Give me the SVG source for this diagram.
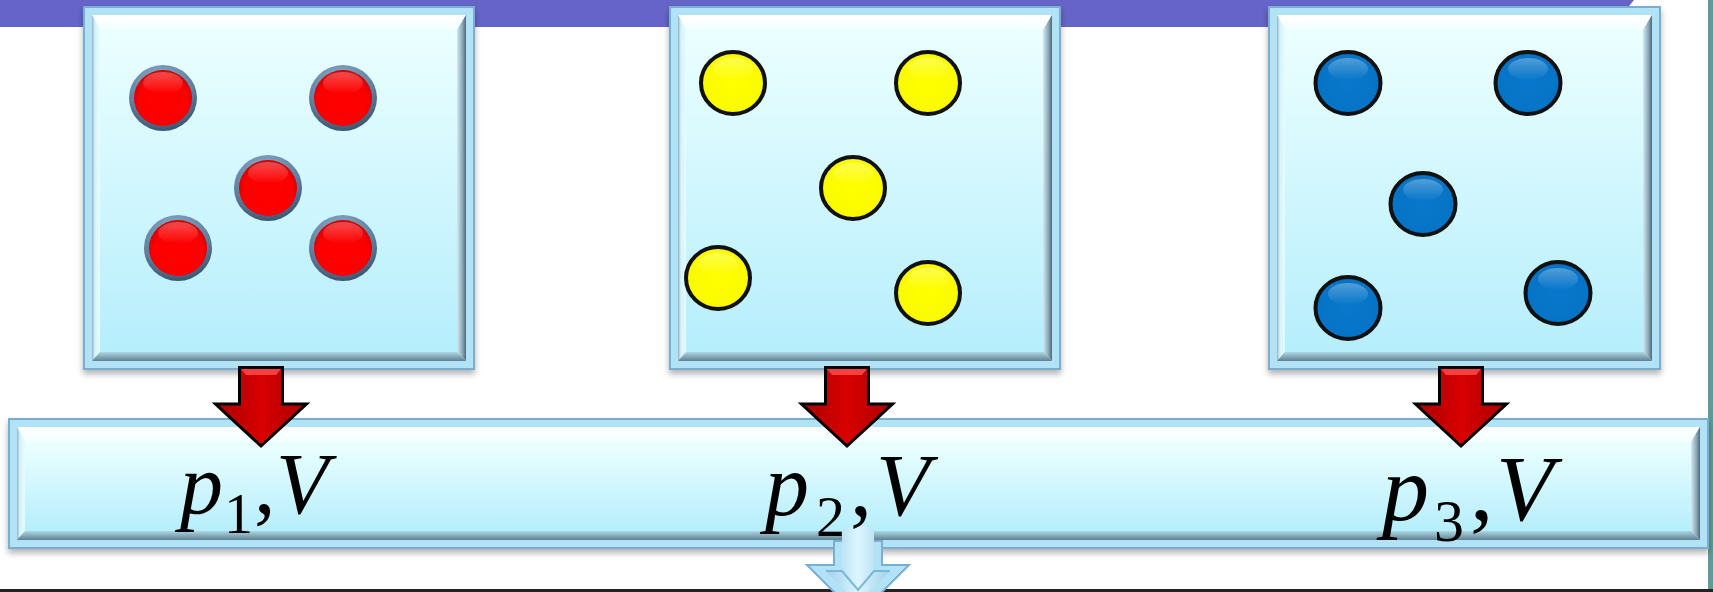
<svg xmlns="http://www.w3.org/2000/svg" width="1713" height="592" viewBox="0 0 1713 592">
<defs>
<style>
.frame{fill:#b2e2f6;stroke:#7aaed0;stroke-width:2}
.face{fill:url(#gFace)}
.bT{fill:url(#gTop)}
.bL{fill:url(#gLeft)}
.bR{fill:url(#gRight)}
.bB{fill:url(#gBottom)}
.ringR{fill:url(#gRing)}
.red{fill:url(#gRed)}
.yel{fill:url(#gYel);stroke:#111;stroke-width:4}
.blu{fill:url(#gBlu);stroke:#111;stroke-width:4}
.hi{fill:url(#gHi)}
.arr{fill:url(#gArr);stroke:#000;stroke-width:3;stroke-linejoin:miter}
.hl{fill:#ff4a4a;opacity:0.85}
.it{font-family:"Liberation Serif","Times New Roman",serif;font-style:italic;fill:#000}
.rm{font-family:"Liberation Serif","Times New Roman",serif;font-style:normal;fill:#000}
</style>
<filter id="sh" x="-5%" y="-5%" width="110%" height="115%">
<feDropShadow dx="0" dy="4" stdDeviation="3" flood-color="#000" flood-opacity="0.3"/>
</filter>
<linearGradient id="gFace" x1="0" y1="0" x2="0" y2="1">
<stop offset="0" stop-color="#ebffff"/><stop offset="1" stop-color="#b6eefc"/>
</linearGradient>
<linearGradient id="gTop" x1="0" y1="0" x2="0" y2="1">
<stop offset="0" stop-color="#ffffff"/><stop offset="1" stop-color="#f2ffff"/>
</linearGradient>
<linearGradient id="gLeft" x1="0" y1="0" x2="1" y2="0">
<stop offset="0" stop-color="#93b3c2"/><stop offset="0.35" stop-color="#d6f2fa"/><stop offset="1" stop-color="#e6fcff"/>
</linearGradient>
<linearGradient id="gRight" x1="0" y1="0" x2="1" y2="0">
<stop offset="0" stop-color="#d2eaf2"/><stop offset="0.6" stop-color="#8aa8b6"/><stop offset="1" stop-color="#4e6a78"/>
</linearGradient>
<linearGradient id="gBottom" x1="0" y1="0" x2="0" y2="1">
<stop offset="0" stop-color="#aed6e4"/><stop offset="1" stop-color="#5f8292"/>
</linearGradient>
<radialGradient id="gRing" cx="0.45" cy="0.3" r="0.7">
<stop offset="0" stop-color="#9ab8d8"/><stop offset="0.7" stop-color="#5f7f9e"/><stop offset="1" stop-color="#3a5570"/>
</radialGradient>
<radialGradient id="gRed" cx="0.5" cy="0.55" r="0.55">
<stop offset="0" stop-color="#ff0000"/><stop offset="0.78" stop-color="#fb0000"/><stop offset="1" stop-color="#c80000"/>
</radialGradient>
<radialGradient id="gYel" cx="0.5" cy="0.5" r="0.55">
<stop offset="0" stop-color="#ffff00"/><stop offset="0.82" stop-color="#fbfb00"/><stop offset="1" stop-color="#c4c400"/>
</radialGradient>
<radialGradient id="gBlu" cx="0.5" cy="0.5" r="0.55">
<stop offset="0" stop-color="#0878cc"/><stop offset="0.82" stop-color="#0674c6"/><stop offset="1" stop-color="#05528f"/>
</radialGradient>
<linearGradient id="gHi" x1="0" y1="0" x2="0" y2="1">
<stop offset="0" stop-color="#ffffff" stop-opacity="0.3"/><stop offset="1" stop-color="#ffffff" stop-opacity="0"/>
</linearGradient>
<linearGradient id="gArr" x1="0" y1="0" x2="1" y2="0">
<stop offset="0" stop-color="#a80000"/><stop offset="0.5" stop-color="#d80000"/><stop offset="1" stop-color="#a80000"/>
</linearGradient>
<linearGradient id="gLB" x1="0" y1="0" x2="1" y2="0">
<stop offset="0" stop-color="#9fd0ea"/><stop offset="0.5" stop-color="#dcf6ff"/><stop offset="1" stop-color="#9fd0ea"/>
</linearGradient>
</defs>

<rect x="0" y="0" width="1713" height="592" fill="#ffffff"/>
<g id="band">
<polygon points="0,0 1634,0 1612,27 0,27" fill="#6664c8"/>
<rect x="1708" y="0" width="5" height="590" fill="#5e9a96"/>
<rect x="0" y="589" width="1713" height="3" fill="#222222"/>
</g>

<g id="box1">
<rect class="frame" x="84" y="7" width="390" height="362" filter="url(#sh)"/>
<rect class="face" x="100" y="30" width="357" height="322"/>
<polygon class="bT" points="92,15 466,15 457,30 100,30"/>
<polygon class="bL" points="92,15 100,30 100,352 92,361"/>
<polygon class="bR" points="466,15 466,361 457,352 457,30"/>
<polygon class="bB" points="92,361 466,361 457,352 100,352"/>
<g>
<ellipse class="ringR" cx="163" cy="98" rx="34" ry="33"/><ellipse class="red" cx="163" cy="98" rx="29" ry="28"/><ellipse class="hi" cx="163" cy="83" rx="20" ry="11"/>
<ellipse class="ringR" cx="343" cy="98" rx="34" ry="33"/><ellipse class="red" cx="343" cy="98" rx="29" ry="28"/><ellipse class="hi" cx="343" cy="83" rx="20" ry="11"/>
<ellipse class="ringR" cx="268" cy="188" rx="34" ry="33"/><ellipse class="red" cx="268" cy="188" rx="29" ry="28"/><ellipse class="hi" cx="268" cy="173" rx="20" ry="11"/>
<ellipse class="ringR" cx="178" cy="248" rx="34" ry="33"/><ellipse class="red" cx="178" cy="248" rx="29" ry="28"/><ellipse class="hi" cx="178" cy="233" rx="20" ry="11"/>
<ellipse class="ringR" cx="343" cy="248" rx="34" ry="33"/><ellipse class="red" cx="343" cy="248" rx="29" ry="28"/><ellipse class="hi" cx="343" cy="233" rx="20" ry="11"/>
</g>
</g>

<g id="box2">
<rect class="frame" x="670" y="7" width="390" height="362" filter="url(#sh)"/>
<rect class="face" x="686" y="30" width="357" height="322"/>
<polygon class="bT" points="678,15 1052,15 1043,30 686,30"/>
<polygon class="bL" points="678,15 686,30 686,352 678,361"/>
<polygon class="bR" points="1052,15 1052,361 1043,352 1043,30"/>
<polygon class="bB" points="678,361 1052,361 1043,352 686,352"/>
<g>
<ellipse class="yel" cx="733" cy="83" rx="32" ry="31"/><ellipse class="hi" cx="733" cy="69" rx="20" ry="11"/>
<ellipse class="yel" cx="928" cy="83" rx="32" ry="31"/><ellipse class="hi" cx="928" cy="69" rx="20" ry="11"/>
<ellipse class="yel" cx="853" cy="188" rx="32" ry="31"/><ellipse class="hi" cx="853" cy="174" rx="20" ry="11"/>
<ellipse class="yel" cx="718" cy="278" rx="32" ry="31"/><ellipse class="hi" cx="718" cy="264" rx="20" ry="11"/>
<ellipse class="yel" cx="928" cy="293" rx="32" ry="31"/><ellipse class="hi" cx="928" cy="279" rx="20" ry="11"/>
</g>
</g>

<g id="box3">
<rect class="frame" x="1269" y="7" width="391" height="362" filter="url(#sh)"/>
<rect class="face" x="1285" y="30" width="358" height="322"/>
<polygon class="bT" points="1277,15 1652,15 1643,30 1285,30"/>
<polygon class="bL" points="1277,15 1285,30 1285,352 1277,361"/>
<polygon class="bR" points="1652,15 1652,361 1643,352 1643,30"/>
<polygon class="bB" points="1277,361 1652,361 1643,352 1285,352"/>
<g>
<ellipse class="blu" cx="1348" cy="83" rx="32.5" ry="31"/><ellipse class="hi" cx="1348" cy="69" rx="20" ry="11"/>
<ellipse class="blu" cx="1528" cy="83" rx="32.5" ry="31"/><ellipse class="hi" cx="1528" cy="69" rx="20" ry="11"/>
<ellipse class="blu" cx="1423" cy="204" rx="32.5" ry="31"/><ellipse class="hi" cx="1423" cy="190" rx="20" ry="11"/>
<ellipse class="blu" cx="1348" cy="308" rx="32.5" ry="31"/><ellipse class="hi" cx="1348" cy="294" rx="20" ry="11"/>
<ellipse class="blu" cx="1558" cy="293" rx="32.5" ry="31"/><ellipse class="hi" cx="1558" cy="279" rx="20" ry="11"/>
</g>
</g>

<g id="bar">
<rect class="frame" x="9" y="419" width="1699" height="129" filter="url(#sh)"/>
<rect class="face" x="25" y="442" width="1666" height="89"/>
<polygon class="bT" points="17,427 1700,427 1691,442 25,442"/>
<polygon class="bL" points="17,427 25,442 25,531 17,540"/>
<polygon class="bR" points="1700,427 1700,540 1691,531 1691,442"/>
<polygon class="bB" points="17,540 1700,540 1691,531 25,531"/>
</g>

<g id="connectors">
<g id="arrow1">
<path class="arr" d="M239.5,367.5 H282.5 V404 H306.5 L261,446 L215.5,404 H239.5 Z"/>
<polygon class="hl" points="241,369 281,369 276,375 246,375"/>
</g>
<g id="arrow2">
<path class="arr" d="M825.5,367.5 H868.5 V404 H892.5 L847,446 L801.5,404 H825.5 Z"/>
<polygon class="hl" points="827,369 867,369 862,375 832,375"/>
</g>
<g id="arrow3">
<path class="arr" d="M1439.5,367.5 H1482.5 V404 H1506.5 L1461,446 L1415.5,404 H1439.5 Z"/>
<polygon class="hl" points="1441,369 1481,369 1476,375 1446,375"/>
</g>
<g id="arrowOut">
<path d="M834,541 V565 H807 L858,616 L909,565 H882 V541 Z" fill="#b2e2f6" stroke="#7aaed0" stroke-width="2"/>
<path d="M842,530 L858,524 L874,530 V571 H890 L858,604 L826,571 H842 Z" fill="url(#gLB)"/>
<path d="M826,571 L842,571 L858,590 L874,571 L890,571" fill="none" stroke="#7ab8d8" stroke-width="2"/>
</g>
</g>

<g id="labels">
<text class="it" font-size="86" x="180" y="513">p</text>
<text class="rm" font-size="58" x="224" y="533">1</text>
<text class="rm" font-size="86" x="254" y="513">,</text>
<text class="it" font-size="86" x="276" y="513">V</text>

<text class="it" font-size="88" x="765" y="515">p</text>
<text class="rm" font-size="58" x="816" y="536">2</text>
<text class="rm" font-size="88" x="850" y="515">,</text>
<text class="it" font-size="88" x="876" y="515">V</text>

<text class="it" font-size="94" x="1382" y="520">p</text>
<text class="rm" font-size="60" x="1434" y="541">3</text>
<text class="rm" font-size="94" x="1470" y="520">,</text>
<text class="it" font-size="94" x="1496" y="520">V</text>
</g>
</svg>
